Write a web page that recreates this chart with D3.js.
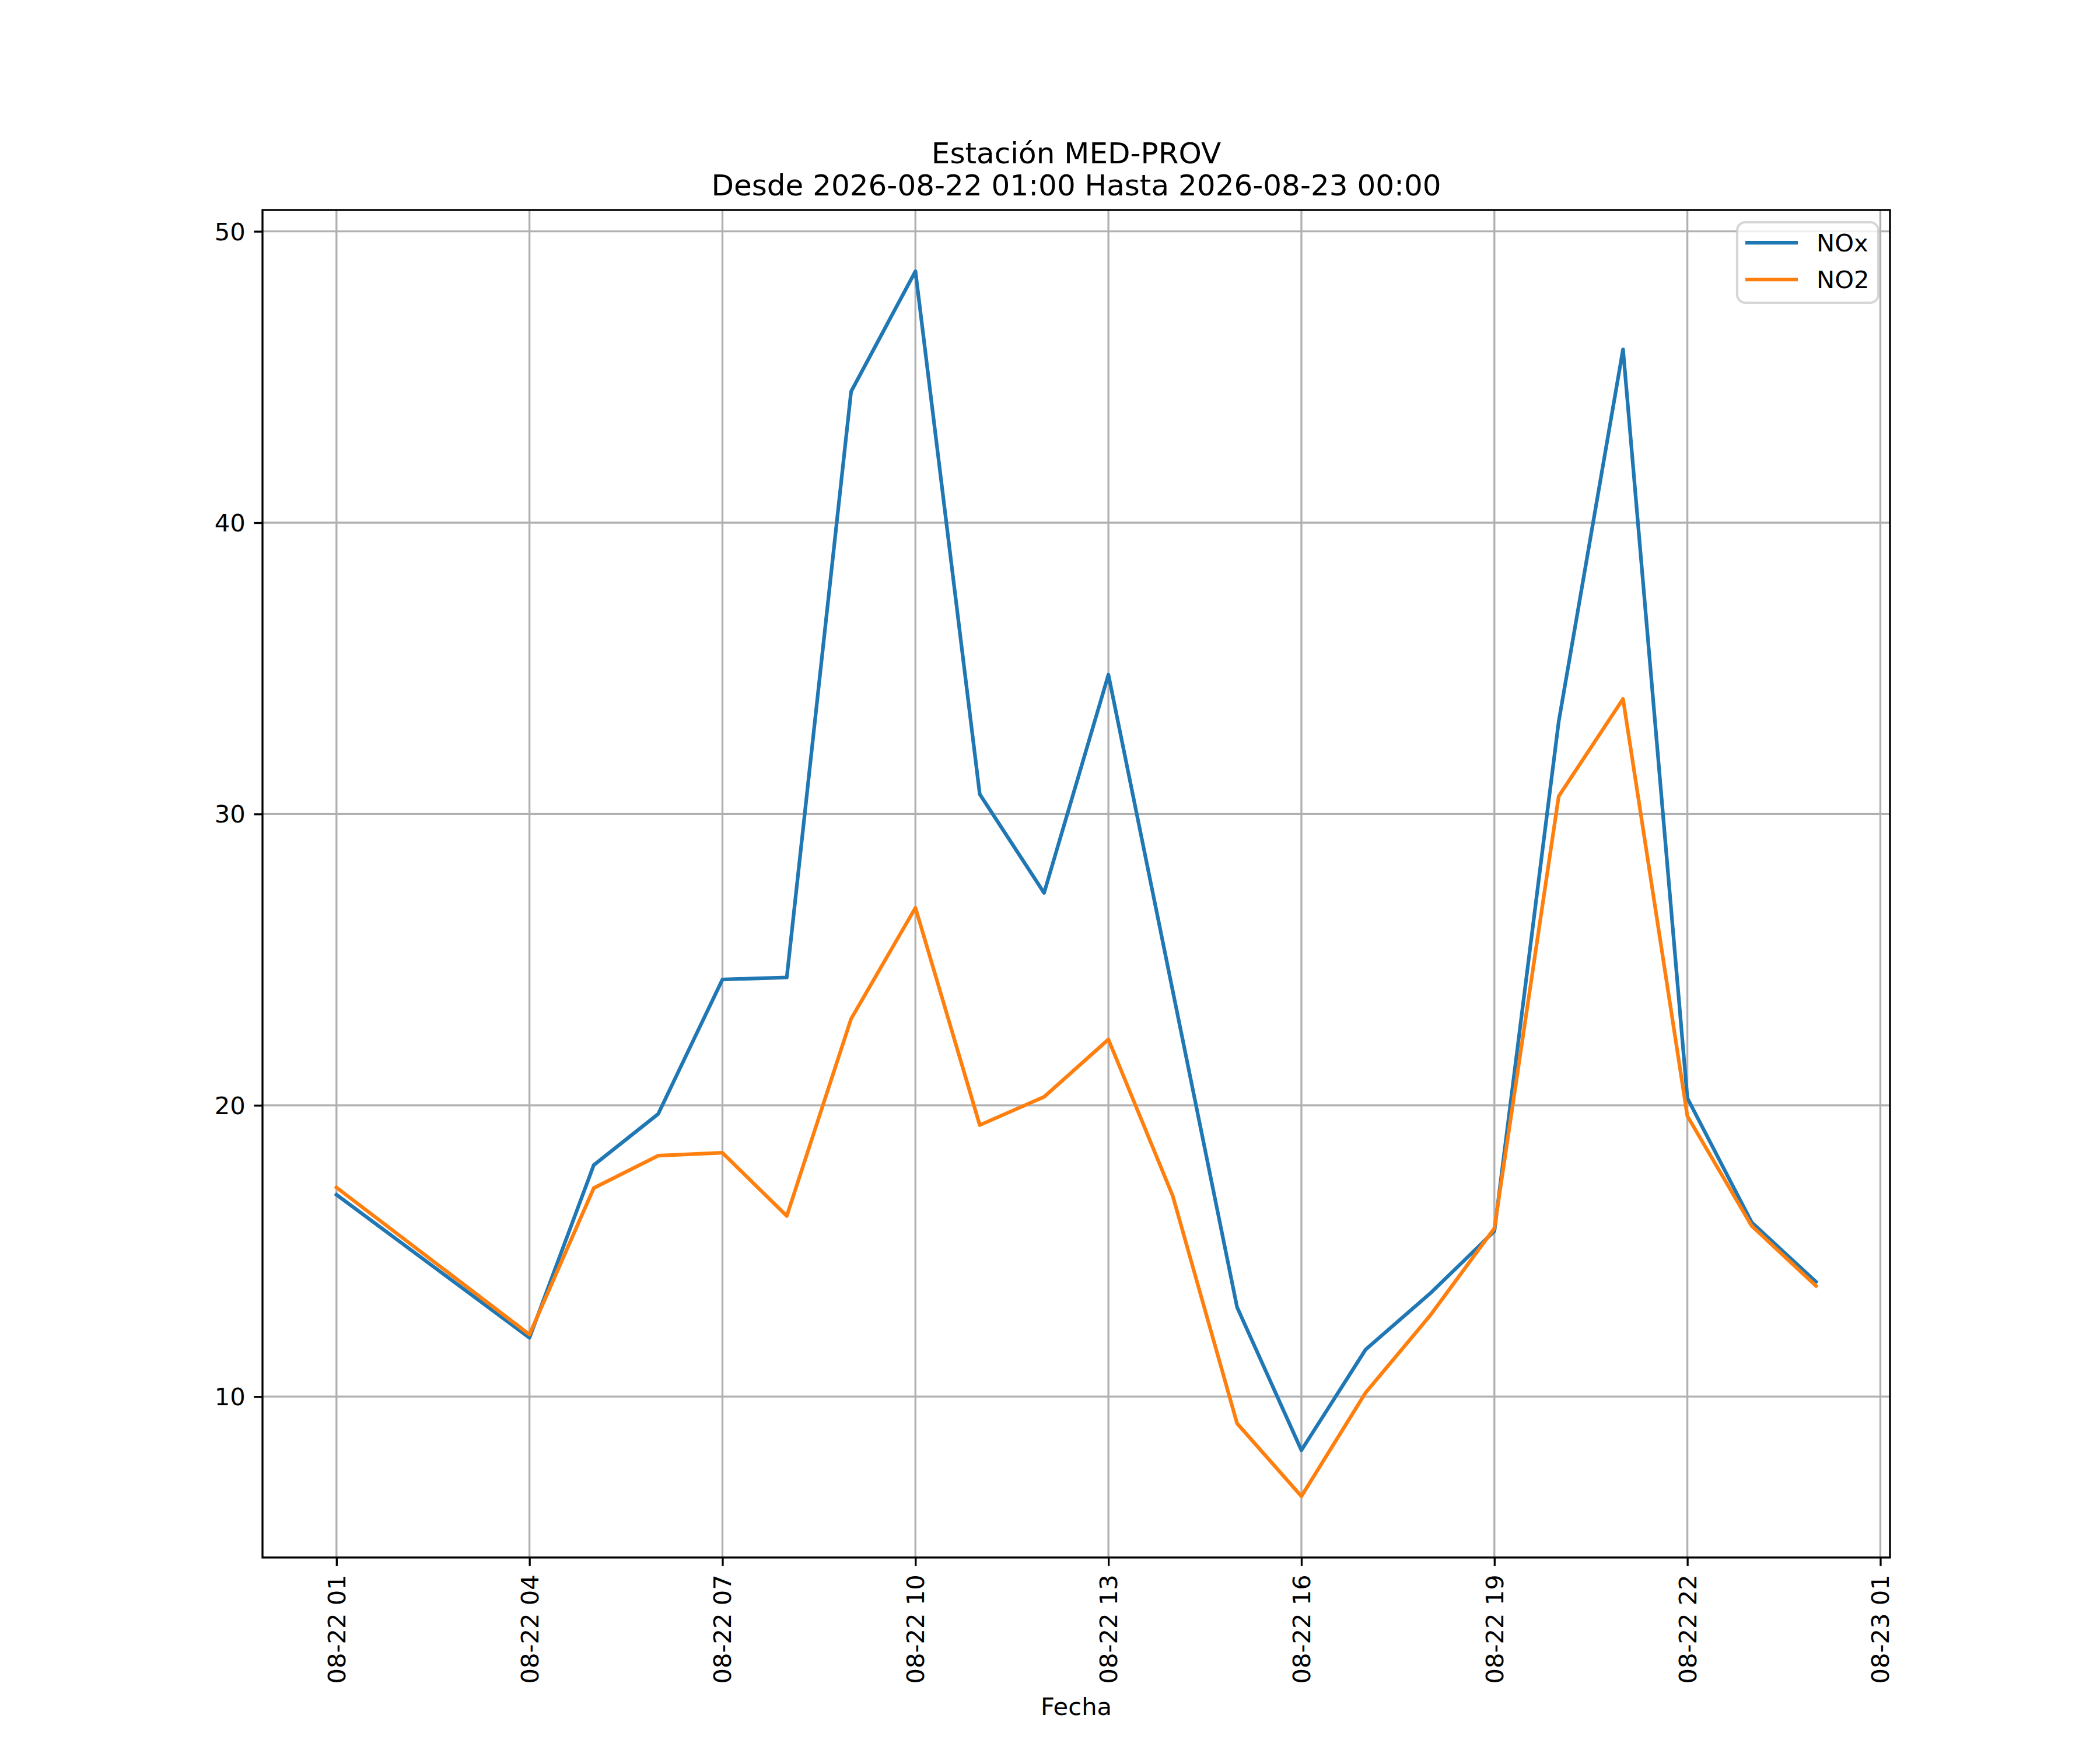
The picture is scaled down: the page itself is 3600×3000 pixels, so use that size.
<!DOCTYPE html>
<html>
<head>
<meta charset="utf-8">
<script src="https://cdn.jsdelivr.net/npm/d3@7"></script>
<style>
  html, body { margin: 0; padding: 0; background: #fff; }
  svg { display: block; font-family: "DejaVu Sans", sans-serif; }
</style>
</head>
<body>
<svg id="chart" width="3600" height="3000"></svg>
<script>
// ---- data ----
const times = [
  "2026-08-22T01:00", "2026-08-22T04:00", "2026-08-22T05:00", "2026-08-22T06:00",
  "2026-08-22T07:00", "2026-08-22T08:00", "2026-08-22T09:00", "2026-08-22T10:00",
  "2026-08-22T11:00", "2026-08-22T12:00", "2026-08-22T13:00", "2026-08-22T14:00",
  "2026-08-22T15:00", "2026-08-22T16:00", "2026-08-22T17:00", "2026-08-22T18:00",
  "2026-08-22T19:00", "2026-08-22T20:00", "2026-08-22T21:00", "2026-08-22T22:00",
  "2026-08-22T23:00", "2026-08-23T00:00"
];
const noxValues = [16.93, 12.02, 17.95, 19.70, 24.32, 24.39, 44.50, 48.63, 30.68, 27.29, 34.78,
                   23.93, 13.07, 8.16, 11.62, 13.54, 15.68, 33.17, 45.95, 20.25, 15.98, 13.94];
const no2Values = [17.18, 12.13, 17.16, 18.27, 18.37, 16.20, 22.97, 26.78, 19.32, 20.29, 22.26,
                   16.89, 9.08, 6.58, 10.14, 12.78, 15.78, 30.61, 33.95, 19.63, 15.86, 13.80];
const seriesNames = ["NOx", "NO2"];
const xTickTimes = [
  "2026-08-22T01:00", "2026-08-22T04:00", "2026-08-22T07:00", "2026-08-22T10:00",
  "2026-08-22T13:00", "2026-08-22T16:00", "2026-08-22T19:00", "2026-08-22T22:00",
  "2026-08-23T01:00"
];
const yTickValues = [10, 20, 30, 40, 50];
const titleLines = ["Estación MED-PROV", "Desde 2026-08-22 01:00 Hasta 2026-08-23 00:00"];
const xLabel = "Fecha";

(function () {
// ---- layout (matplotlib-like, 12x10in @300dpi) ----
const axL = 450, axR = 3240, axT = 360, axB = 2670;
const pt = 300 / 72;
const fs = 10 * pt;           // 41.67
const colors = ["#1f77b4", "#ff7f0e"];

const parse = d3.utcParse("%Y-%m-%dT%H:%M");
const fmt = d3.utcFormat("%m-%d %H");
const dates = times.map(parse);

const svg = d3.select("#chart");

// x scale with 5% margins
const xExt = d3.extent(dates);
const xSpan = xExt[1] - xExt[0];
const x = d3.scaleUtc()
  .domain([new Date(+xExt[0] - 0.05 * xSpan), new Date(+xExt[1] + 0.05 * xSpan)])
  .range([axL, axR]);

// y scale with 5% margins
const allVals = noxValues.concat(no2Values);
const yMin = d3.min(allVals), yMax = d3.max(allVals);
const ySpan = yMax - yMin;
const y = d3.scaleLinear()
  .domain([yMin - 0.05 * ySpan, yMax + 0.05 * ySpan])
  .range([axB, axT]);

const xTicks = xTickTimes.map(parse);

// grid
const grid = svg.append("g");
grid.selectAll("line.vg").data(xTicks).enter().append("line")
  .attr("x1", d => x(d)).attr("x2", d => x(d))
  .attr("y1", axT).attr("y2", axB)
  .attr("stroke", "#b0b0b0").attr("stroke-width", 0.8 * pt);
grid.selectAll("line.hg").data(yTickValues).enter().append("line")
  .attr("x1", axL).attr("x2", axR)
  .attr("y1", d => y(d)).attr("y2", d => y(d))
  .attr("stroke", "#b0b0b0").attr("stroke-width", 0.8 * pt);

// lines
const series = [noxValues, no2Values];
const line = d3.line().x((d, i) => x(dates[i])).y(d => y(d));
svg.append("g").selectAll("path").data(series).enter().append("path")
  .attr("d", d => line(d))
  .attr("fill", "none")
  .attr("stroke", (d, i) => colors[i])
  .attr("stroke-width", 1.5 * pt)
  .attr("stroke-linejoin", "round")
  .attr("stroke-linecap", "square");

// axes via d3 axis generators
const tickLen = 3.5 * pt, tickPad = 3.5 * pt;
const xAxis = d3.axisBottom(x).tickValues(xTicks).tickFormat(fmt)
  .tickSizeInner(tickLen).tickSizeOuter(0).tickPadding(tickPad);
const gx = svg.append("g").attr("transform", `translate(0,${axB})`).call(xAxis);
gx.select(".domain").remove();
gx.selectAll(".tick line").attr("stroke", "#000").attr("stroke-width", 0.8 * pt);
gx.selectAll(".tick text")
  .attr("font-size", fs).attr("fill", "#000")
  .attr("font-family", "DejaVu Sans")
  .attr("y", 0).attr("dy", null)
  .attr("text-anchor", "end")
  .attr("dominant-baseline", "central")
  .attr("transform", `translate(0,${tickLen + tickPad}) rotate(-90)`);

const yAxis = d3.axisLeft(y).tickValues(yTickValues).tickFormat(d3.format("d"))
  .tickSizeInner(tickLen).tickSizeOuter(0).tickPadding(tickPad);
const gy = svg.append("g").attr("transform", `translate(${axL},0)`).call(yAxis);
gy.select(".domain").remove();
gy.selectAll(".tick line").attr("stroke", "#000").attr("stroke-width", 0.8 * pt);
gy.selectAll(".tick text")
  .attr("font-size", fs).attr("fill", "#000")
  .attr("font-family", "DejaVu Sans")
  .attr("dy", null)
  .attr("dominant-baseline", "central");

// spines
svg.append("rect")
  .attr("x", axL).attr("y", axT)
  .attr("width", axR - axL).attr("height", axB - axT)
  .attr("fill", "none").attr("stroke", "#000").attr("stroke-width", 0.8 * pt);

// title
const title = svg.append("text")
  .attr("x", (axL + axR) / 2).attr("text-anchor", "middle")
  .attr("font-size", 12 * pt).attr("fill", "#000");
title.selectAll("tspan").data(titleLines).enter().append("tspan")
  .attr("x", (axL + axR) / 2)
  .attr("y", (d, i) => 280 + i * 55)
  .text(d => d);

// x label
svg.append("text")
  .attr("x", (axL + axR) / 2).attr("y", 2940)
  .attr("text-anchor", "middle")
  .attr("font-size", fs).attr("fill", "#000")
  .text(xLabel);

// legend
const lg = svg.append("g");
lg.append("rect")
  .attr("x", 2978).attr("y", 381)
  .attr("width", 242).attr("height", 138)
  .attr("rx", 14).attr("ry", 14)
  .attr("fill", "#fff").attr("fill-opacity", 0.8)
  .attr("stroke", "#cccccc").attr("stroke-opacity", 0.8)
  .attr("stroke-width", 1.0 * pt);
const items = lg.selectAll("g.item").data(seriesNames).enter().append("g")
  .attr("transform", (d, i) => `translate(0,${416 + i * 63})`);
items.append("line")
  .attr("x1", 2992).attr("x2", 3082).attr("y1", 0).attr("y2", 0)
  .attr("stroke", (d, i) => colors[i]).attr("stroke-width", 1.5 * pt);
items.append("text")
  .attr("x", 3114).attr("y", 0)
  .attr("dominant-baseline", "central")
  .attr("font-size", fs).attr("fill", "#000")
  .text(d => d);
})();
</script>
</body>
</html>
